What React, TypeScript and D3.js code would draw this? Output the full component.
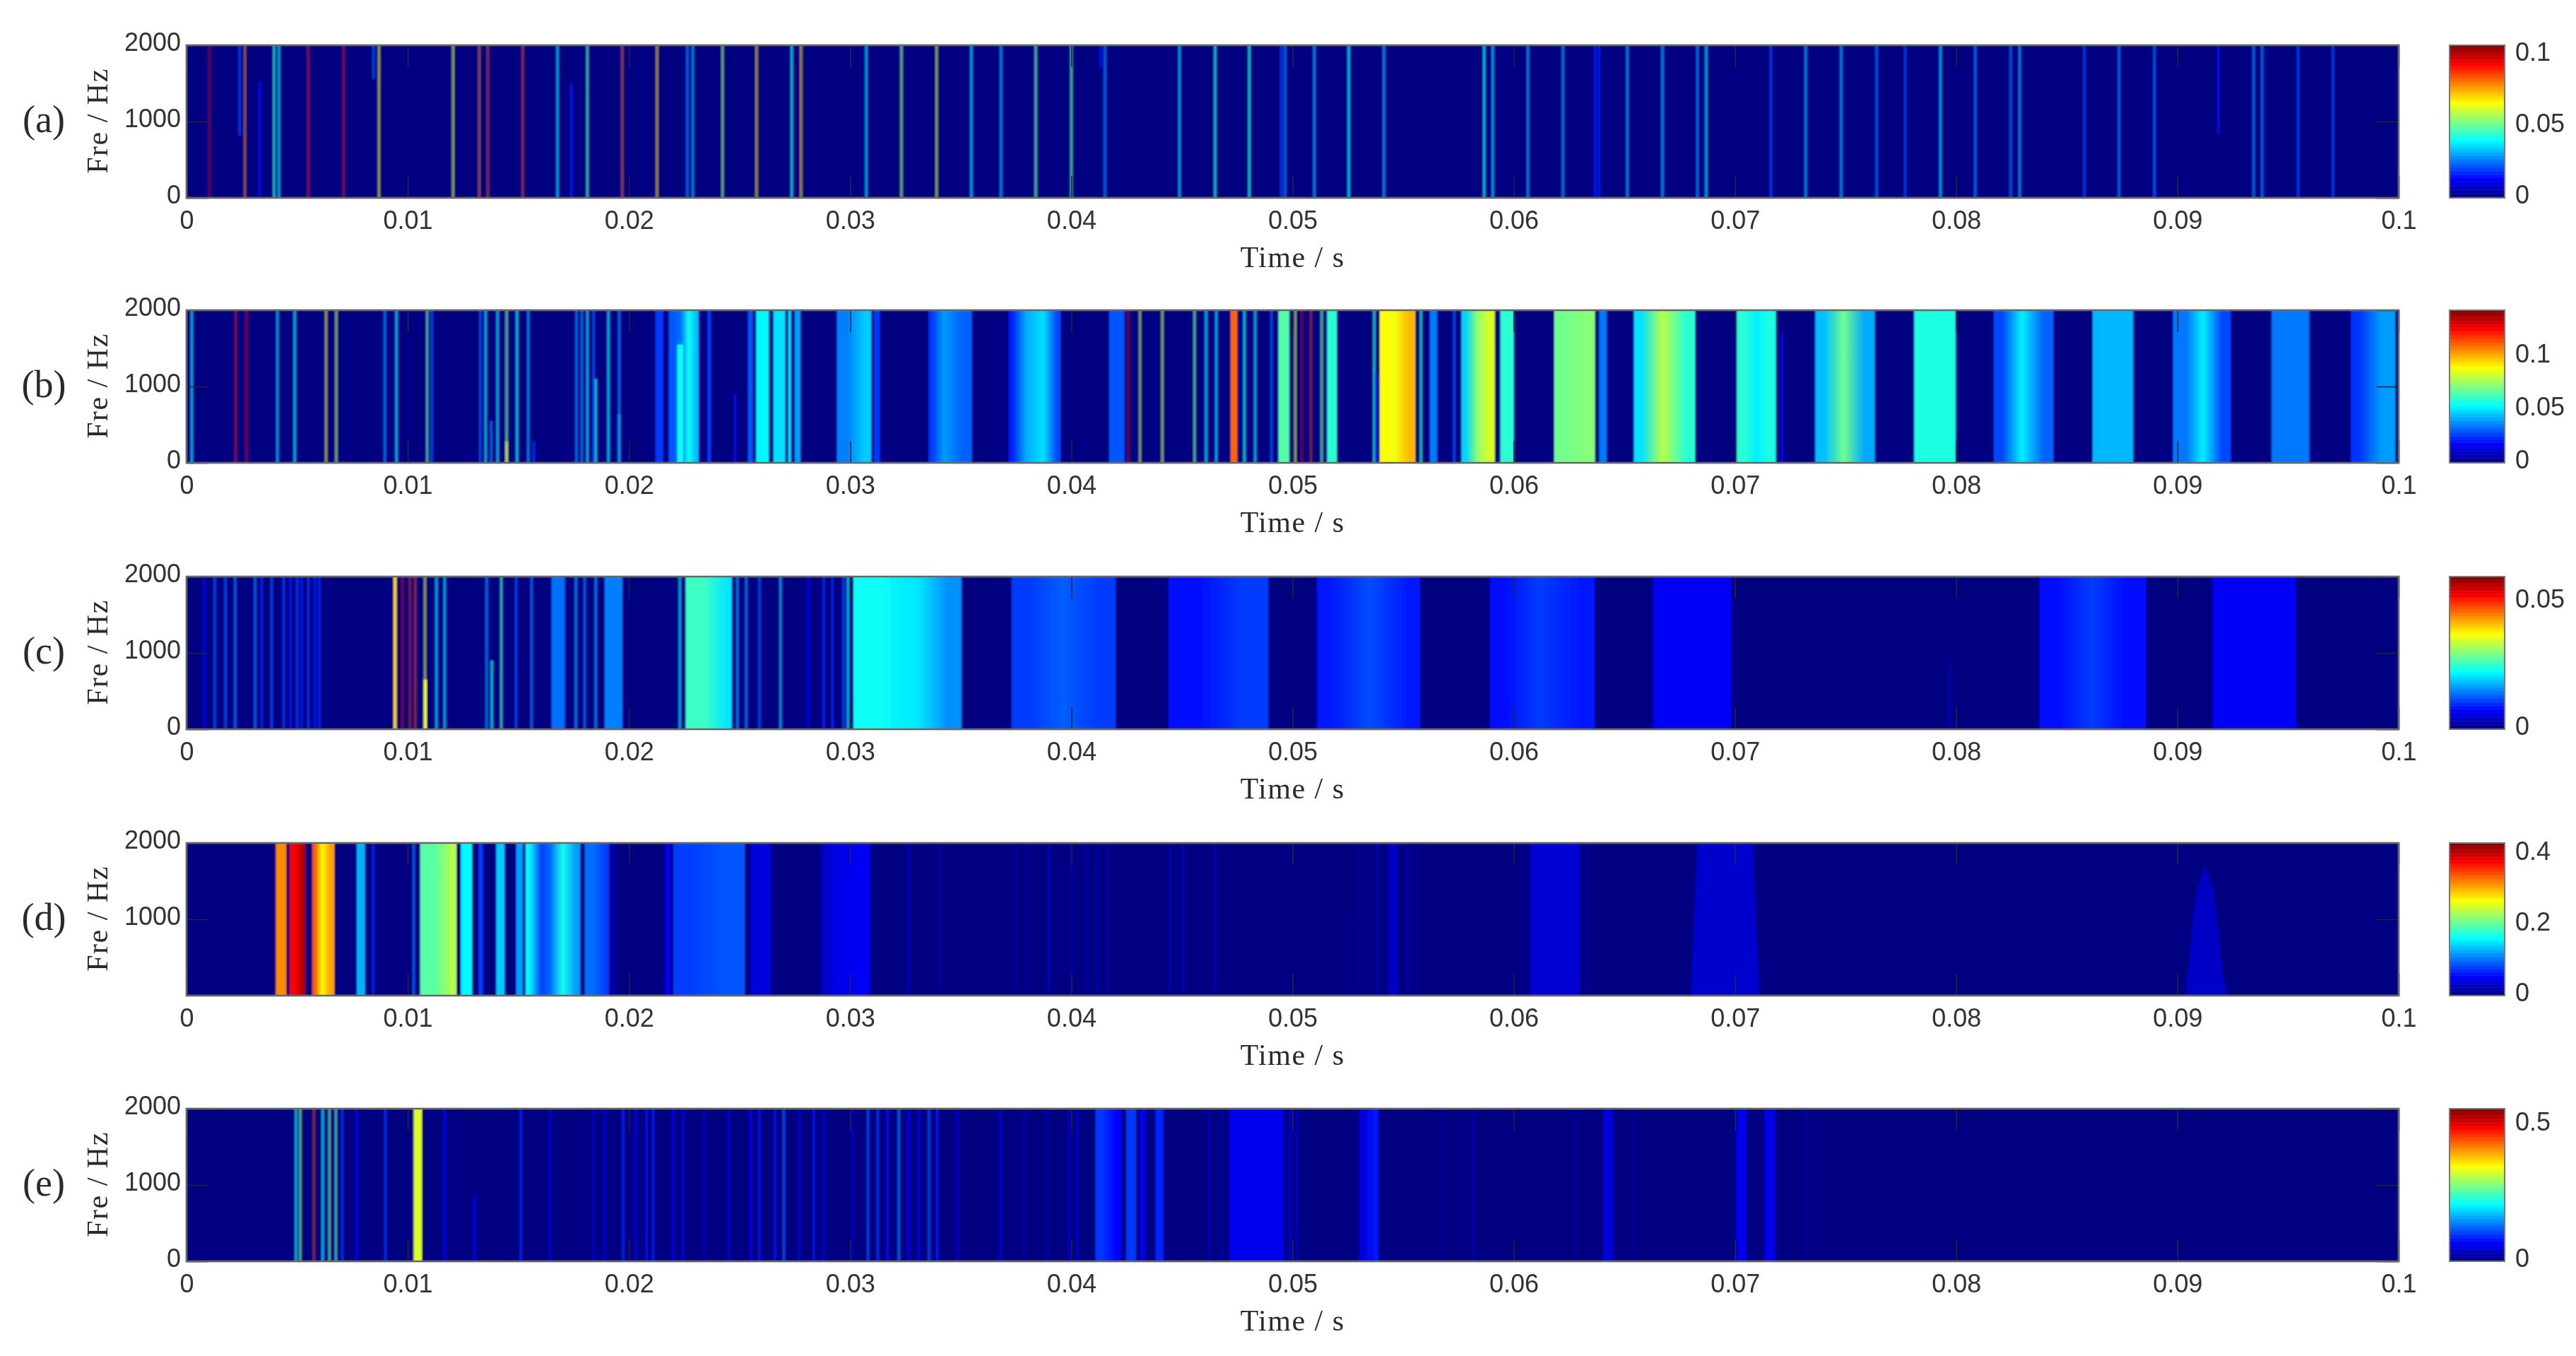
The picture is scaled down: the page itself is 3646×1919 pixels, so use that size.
import * as d3 from "d3";
import { useEffect, useRef } from "react";

// line = [time, level, optional freq low, optional freq high]
type Line = [number, number, number?, number?];
// band = [time start, time end, level, optional freq low, optional freq high]
type Band = [number, number, number, number?, number?];
// outline of a tapered patch = [time, freq]
type Patch = { level: number; outline: [number, number][] };

const X_TICKS = [0, 0.01, 0.02, 0.03, 0.04, 0.05, 0.06, 0.07, 0.08, 0.09, 0.1];
const Y_TICKS = [0, 1000, 2000];
const Y_TICKS_D = [1000, 2000];

const CB_MAX = [0.107, 0.144, 0.06, 0.432, 0.56];
const CB_TICKS = [
  [0, 0.05, 0.1],
  [0, 0.05, 0.1],
  [0, 0.05],
  [0, 0.2, 0.4],
  [0, 0.5],
];
const PANEL_LABELS = ["(a)", "(b)", "(c)", "(d)", "(e)"];

const LINES_A: Line[] = [
  [0.00103, 0.098], [0.0024, 0.02, 820, 2000], [0.00264, 0.078], [0.0033, 0.015, 0, 1526], [0.00396, 0.045],
  [0.00418, 0.036], [0.0055, 0.09], [0.0071, 0.092], [0.00846, 0.022, 1557, 2000], [0.0087, 0.066],
  [0.01205, 0.064], [0.01323, 0.08], [0.01362, 0.085], [0.0152, 0.085], [0.01677, 0.035],
  [0.0174, 0.016, 0, 1500], [0.01812, 0.048], [0.0197, 0.082], [0.02127, 0.07], [0.02264, 0.026],
  [0.02289, 0.03], [0.02423, 0.056], [0.02577, 0.07], [0.02736, 0.042], [0.02778, 0.07],
  [0.03073, 0.035], [0.03232, 0.055], [0.03391, 0.062], [0.03548, 0.035], [0.03682, 0.03],
  [0.03839, 0.05], [0.04, 0.05], [0.04132, 0.015, 1700, 2000], [0.04152, 0.026], [0.04489, 0.035],
  [0.0465, 0.043], [0.04804, 0.042], [0.04949, 0.02], [0.04966, 0.026], [0.05098, 0.03],
  [0.05254, 0.04], [0.05413, 0.03], [0.05866, 0.04], [0.05905, 0.034], [0.06064, 0.03],
  [0.06222, 0.028], [0.06367, 0.016], [0.06385, 0.016], [0.06513, 0.03], [0.06672, 0.03],
  [0.0683, 0.028], [0.0687, 0.035], [0.07162, 0.02], [0.0732, 0.03], [0.0748, 0.03],
  [0.0764, 0.024], [0.07769, 0.02], [0.07929, 0.035], [0.08086, 0.026], [0.08246, 0.024],
  [0.08287, 0.03], [0.08579, 0.02], [0.08736, 0.026], [0.08896, 0.024], [0.09185, 0.015, 830, 2000],
  [0.09345, 0.026], [0.09383, 0.026], [0.09546, 0.02], [0.09703, 0.02],
];

const BANDS_B: Band[] = [
  [0.0212, 0.02155, 0.026], [0.0218, 0.0221, 0.03], [0.02218, 0.0225, 0.034], [0.02218, 0.02245, 0.056, 0, 1550],
  [0.0226, 0.0228, 0.056], [0.0229, 0.02315, 0.045], [0.02355, 0.0237, 0.026], [0.02538, 0.0256, 0.03],
  [0.02575, 0.02633, 0.053], [0.02653, 0.02707, 0.05], [0.0272, 0.02733, 0.05], [0.0275, 0.02775, 0.04],
  [0.0294, 0.0303, 0.036], [0.03037, 0.03095, 0.047], [0.03108, 0.03134, 0.026], [0.03355, 0.03384, 0.026],
  [0.03391, 0.03457, 0.04], [0.03457, 0.0355, 0.032], [0.03716, 0.03746, 0.022], [0.03751, 0.03836, 0.042],
  [0.03836, 0.03909, 0.05], [0.03917, 0.03951, 0.028], [0.04171, 0.0424, 0.03], [0.0472, 0.0475, 0.112],
  [0.04936, 0.04985, 0.066], [0.05156, 0.052, 0.06], [0.05394, 0.05438, 0.09], [0.05438, 0.05487, 0.088],
  [0.05499, 0.05555, 0.1], [0.05621, 0.05653, 0.035], [0.05763, 0.058, 0.048], [0.05812, 0.05865, 0.075],
  [0.05865, 0.05914, 0.085], [0.05939, 0.06, 0.06], [0.06183, 0.06281, 0.07], [0.06281, 0.06367, 0.073],
  [0.06386, 0.0642, 0.035], [0.06543, 0.06611, 0.05], [0.06611, 0.06733, 0.08], [0.06733, 0.0682, 0.06],
  [0.07008, 0.07078, 0.06], [0.07078, 0.07116, 0.052], [0.07116, 0.07185, 0.058], [0.07363, 0.07447, 0.045],
  [0.07447, 0.07536, 0.07], [0.07536, 0.07632, 0.042], [0.0781, 0.07997, 0.058], [0.0817, 0.08246, 0.028],
  [0.08246, 0.08348, 0.052], [0.08348, 0.08439, 0.032], [0.08617, 0.088, 0.044], [0.0898, 0.0901, 0.035],
  [0.09013, 0.09071, 0.035], [0.09071, 0.0916, 0.052], [0.0916, 0.09241, 0.028], [0.09426, 0.09596, 0.035],
  [0.09784, 0.09858, 0.025], [0.09858, 0.09985, 0.04],
];
const LINES_B: Line[] = [
  [0.00024, 0.05], [0.00222, 0.122], [0.00271, 0.125], [0.00411, 0.045], [0.00489, 0.05],
  [0.00631, 0.09], [0.00677, 0.08], [0.00897, 0.036], [0.00949, 0.05], [0.01088, 0.07],
  [0.01108, 0.03], [0.01328, 0.03], [0.01352, 0.05], [0.01377, 0.035, 0, 550], [0.01406, 0.05],
  [0.01447, 0.07], [0.01447, 0.09, 0, 280], [0.01494, 0.055], [0.01545, 0.04], [0.0157, 0.025, 0, 280],
  [0.01763, 0.036], [0.01787, 0.036], [0.01812, 0.05], [0.0184, 0.03], [0.0185, 0.056, 0, 1100],
  [0.01907, 0.05], [0.01956, 0.036], [0.01956, 0.042, 0, 640], [0.0248, 0.02, 0, 900], [0.04257, 0.13],
  [0.0431, 0.08], [0.04411, 0.08], [0.04557, 0.07], [0.04609, 0.05], [0.04655, 0.05],
  [0.04782, 0.055], [0.04831, 0.05], [0.04905, 0.03], [0.05012, 0.085], [0.05042, 0.13],
  [0.05083, 0.12], [0.05132, 0.07], [0.05369, 0.06], [0.0558, 0.06], [0.05731, 0.03],
  [0.07213, 0.02, 0, 1700], [0.0538, 0.02, 0, 1180],
];

const BANDS_C: Band[] = [
  [0.00936, 0.0095, 0.04], [0.0189, 0.0197, 0.015], [0.02256, 0.0242, 0.026], [0.0243, 0.02465, 0.021], [0.03015, 0.03247, 0.023],
  [0.03247, 0.03375, 0.021], [0.03375, 0.03503, 0.016], [0.0373, 0.0389, 0.011], [0.0389, 0.04035, 0.013],
  [0.04035, 0.042, 0.011], [0.04439, 0.04659, 0.008], [0.04659, 0.0489, 0.011], [0.0511, 0.05245, 0.009],
  [0.05245, 0.05452, 0.012], [0.05452, 0.05576, 0.009], [0.05892, 0.05997, 0.008], [0.05997, 0.06223, 0.011],
  [0.06223, 0.06366, 0.009], [0.0663, 0.06983, 0.007], [0.08376, 0.08519, 0.008], [0.08519, 0.08707, 0.011],
  [0.08707, 0.08858, 0.008], [0.09159, 0.09535, 0.007], [0.0165, 0.0171, 0.014],
  [0.01072, 0.01086, 0.037, 0, 650],
];
const LINES_C: Line[] = [
  [0.0008, 0.008], [0.00128, 0.012], [0.00176, 0.012], [0.0022, 0.014], [0.0031, 0.014],
  [0.0034, 0.01], [0.00385, 0.012], [0.0044, 0.011], [0.0047, 0.009], [0.005, 0.011],
  [0.0052, 0.009], [0.0055, 0.011], [0.0058, 0.009], [0.006, 0.01],
  [0.00976, 0.052], [0.0101, 0.05], [0.01034, 0.048], [0.01078, 0.036],
  [0.0113, 0.02], [0.01167, 0.02], [0.01357, 0.015], [0.0138, 0.023, 0, 900],
  [0.01423, 0.027], [0.0149, 0.012], [0.0156, 0.014], [0.0176, 0.016], [0.018, 0.014],
  [0.0185, 0.016], [0.0223, 0.02], [0.0249, 0.016], [0.0253, 0.015], [0.0259, 0.012],
  [0.02685, 0.018], [0.0281, 0.008], [0.0288, 0.01], [0.0292, 0.01], [0.0297, 0.012],
  [0.0299, 0.022], [0.0797, 0.003, 0, 900],
];

const BANDS_D: Band[] = [
  [0.00404, 0.00451, 0.32], [0.00466, 0.00506, 0.38], [0.00506, 0.00536, 0.41], [0.00569, 0.00594, 0.34],
  [0.00594, 0.00631, 0.27], [0.00631, 0.00668, 0.31], [0.0077, 0.00807, 0.13], [0.01056, 0.01192, 0.2],
  [0.0119, 0.0122, 0.24], [0.0124, 0.01291, 0.16], [0.0132, 0.0134, 0.08], [0.014, 0.01438, 0.14],
  [0.0149, 0.0152, 0.12], [0.01533, 0.0157, 0.16], [0.0158, 0.0163, 0.08], [0.0163, 0.0166, 0.1],
  [0.0166, 0.01742, 0.17], [0.01742, 0.0178, 0.12], [0.018, 0.0188, 0.1], [0.0188, 0.0191, 0.08],
  [0.02164, 0.02186, 0.05], [0.022, 0.02348, 0.08], [0.02348, 0.02524, 0.09], [0.0255, 0.02641, 0.04],
  [0.02869, 0.02898, 0.03], [0.02905, 0.03, 0.045], [0.03, 0.03089, 0.05], [0.05433, 0.05475, 0.03],
  [0.06073, 0.06298, 0.035],
];
const LINES_D: Line[] = [
  [0.00844, 0.07], [0.01027, 0.1], [0.0193, 0.04], [0.03265, 0.03], [0.03404, 0.02],
  [0.0375, 0.015], [0.03797, 0.015], [0.03896, 0.03], [0.04, 0.02], [0.04065, 0.02],
  [0.04116, 0.02], [0.04164, 0.02], [0.04446, 0.025], [0.04505, 0.03], [0.04648, 0.03],
  [0.05245, 0.015, 0, 1000], [0.053, 0.015], [0.05384, 0.025], [0.0552, 0.025], [0.05565, 0.015],
  [0.0604, 0.015], [0.0633, 0.015],
];
const PATCHES_D: Patch[] = [
  { level: 0.033, outline: [[0.0680, 0], [0.0683, 2000], [0.0708, 2000], [0.0711, 0]] },
  {
    level: 0.03,
    outline: [
      [0.09036, 0], [0.09055, 500], [0.0907, 1000], [0.0909, 1400], [0.09125, 1720],
      [0.0916, 1400], [0.0918, 1000], [0.09194, 500], [0.09224, 0],
    ],
  },
];

const BANDS_E: Band[] = [
  [0.01027, 0.01064, 0.33], [0.04109, 0.04164, 0.1], [0.04175, 0.04226, 0.07], [0.04248, 0.04292, 0.1],
  [0.0431, 0.04336, 0.06], [0.0438, 0.04416, 0.09], [0.04714, 0.0496, 0.06], [0.05301, 0.05339, 0.05],
  [0.0535, 0.05388, 0.08], [0.06404, 0.06449, 0.05], [0.07006, 0.07051, 0.06], [0.07133, 0.07181, 0.06],
];
const LINES_E: Line[] = [
  [0.00495, 0.2], [0.00514, 0.28], [0.00576, 0.45], [0.00616, 0.2], [0.00646, 0.27],
  [0.00675, 0.25], [0.00704, 0.1], [0.0077, 0.07], [0.00899, 0.1], [0.01167, 0.07],
  [0.01302, 0.07, 0, 880], [0.01511, 0.09], [0.01643, 0.05], [0.01842, 0.04], [0.0189, 0.05],
  [0.01974, 0.09], [0.0203, 0.06], [0.0208, 0.08], [0.0211, 0.09], [0.022, 0.07],
  [0.02245, 0.06], [0.0234, 0.04], [0.0245, 0.05], [0.0255, 0.07], [0.0259, 0.08],
  [0.0266, 0.08], [0.027, 0.12], [0.0277, 0.05], [0.02836, 0.08], [0.0288, 0.05],
  [0.0301, 0.04], [0.0308, 0.11], [0.03125, 0.1], [0.0317, 0.08], [0.0322, 0.13],
  [0.03265, 0.07], [0.0331, 0.06], [0.03357, 0.11], [0.03393, 0.09], [0.03485, 0.05],
  [0.03679, 0.05], [0.03786, 0.03], [0.03888, 0.03], [0.0399, 0.04], [0.04027, 0.05],
  [0.04622, 0.03], [0.04677, 0.03], [0.04989, 0.05], [0.05019, 0.04], [0.05677, 0.02],
  [0.05817, 0.03], [0.0628, 0.02], [0.06536, 0.02], [0.0732, 0.02],
];

const ALL_LINES = [LINES_A, LINES_B, LINES_C, LINES_D, LINES_E];
const ALL_BANDS: Band[][] = [[], BANDS_B, BANDS_C, BANDS_D, BANDS_E];
const ALL_PATCHES: Patch[][] = [[], [], [], PATCHES_D, []];

const jet = d3
  .scaleLinear<string>()
  .domain([0, 0.125, 0.375, 0.625, 0.875, 1])
  .range(["#000080", "#0000ff", "#00ffff", "#ffff00", "#ff0000", "#800000"])
  .clamp(true);

const WIDTH = 3646;
const HEIGHT = 1919;
const LEFT = 264;
const RIGHT = 3395;
const PANEL_H = 216;
const PANEL_TOPS = [64, 439, 816, 1193, 1569];
const CB_LEFT = 3467;
const CB_RIGHT = 3545;
const TICK_LEN = 31;
const LINE_SPAN = 0.00012;
const MERGE_GAP = 0.00012;
const FONT = "'Liberation Serif', serif";

// neighbouring full-height stripes are joined so they fade into each other
function mergeBands(bands: Band[]) {
  const full = bands.filter((b) => b[3] === undefined).sort((a, b) => a[0] - b[0]);
  const groups: Band[][] = [];
  full.forEach((b) => {
    const last = groups[groups.length - 1];
    if (last && b[0] - last[last.length - 1][1] < MERGE_GAP) last.push(b);
    else groups.push([b]);
  });
  return groups;
}

export default function App() {
  const ref = useRef<SVGSVGElement | null>(null);

  useEffect(() => {
    const svg = d3.select(ref.current);
    svg.selectAll("*").remove();

    const defs = svg.append("defs");
    const blur = (id: string, amount: number) =>
      defs
        .append("filter")
        .attr("id", id)
        .attr("filterUnits", "userSpaceOnUse")
        .attr("x", 0)
        .attr("y", 0)
        .attr("width", WIDTH)
        .attr("height", HEIGHT)
        .append("feGaussianBlur")
        .attr("stdDeviation", amount);
    blur("soft", 1.3);
    blur("softText", 0.7);

    const x = d3.scaleLinear().domain([0, 0.1]).range([LEFT, RIGHT]);

    PANEL_TOPS.forEach((top, i) => {
      const bottom = top + PANEL_H;
      const max = CB_MAX[i];
      const y = d3.scaleLinear().domain([0, 2000]).range([bottom, top]);
      const g = svg.append("g").attr("filter", "url(#soft)");

      g.append("rect")
        .attr("x", LEFT)
        .attr("y", top)
        .attr("width", RIGHT - LEFT)
        .attr("height", PANEL_H)
        .attr("fill", jet(0));

      mergeBands(ALL_BANDS[i]).forEach((group, k) => {
        const start = group[0][0];
        const end = group[group.length - 1][1];
        let fill = jet(group[0][2] / max);
        if (group.length > 1) {
          const id = `band-${i}-${k}`;
          const grad = defs
            .append("linearGradient")
            .attr("id", id)
            .attr("gradientUnits", "userSpaceOnUse")
            .attr("x1", x(start))
            .attr("x2", x(end))
            .attr("y1", 0)
            .attr("y2", 0);
          const stop = (t: number, v: number) =>
            grad
              .append("stop")
              .attr("offset", (t - start) / (end - start))
              .attr("stop-color", jet(v / max));
          stop(start, group[0][2]);
          group.forEach(([t0, t1, v]) => stop((t0 + t1) / 2, v));
          stop(end, group[group.length - 1][2]);
          fill = `url(#${id})`;
        }
        g.append("rect")
          .attr("x", x(start))
          .attr("y", top)
          .attr("width", x(end) - x(start))
          .attr("height", PANEL_H)
          .attr("fill", fill);
      });
      ALL_BANDS[i]
        .filter((b) => b[3] !== undefined)
        .forEach(([t0, t1, v, f0 = 0, f1 = 2000]) => {
          g.append("rect")
            .attr("x", x(t0))
            .attr("y", y(f1))
            .attr("width", x(t1) - x(t0))
            .attr("height", y(f0) - y(f1))
            .attr("fill", jet(v / max));
        });
      ALL_PATCHES[i].forEach((p) => {
        const path = d3
          .line<[number, number]>()
          .x((d) => x(d[0]))
          .y((d) => y(d[1]));
        g.append("path")
          .attr("d", (path(p.outline) ?? "") + "Z")
          .attr("fill", jet(p.level / max));
      });
      ALL_LINES[i].forEach(([t, v, f0 = 0, f1 = 2000]) => {
        g.append("rect")
          .attr("x", x(t - LINE_SPAN / 2))
          .attr("y", y(f1))
          .attr("width", x(LINE_SPAN) - x(0))
          .attr("height", y(f0) - y(f1))
          .attr("fill", jet(v / max))
          .attr("fill-opacity", 0.85 - 0.45 * (v / max));
      });

      // inner ticks on all four sides, labels only bottom and left
      const ticks = svg.append("g").attr("filter", "url(#softText)").attr("font-family", FONT);
      const yTicks = i === 3 ? Y_TICKS_D : Y_TICKS;
      const bottomAxis = ticks
        .append("g")
        .attr("transform", `translate(0,${bottom})`)
        .call(
          d3
            .axisBottom(x)
            .tickValues(X_TICKS)
            .tickSize(-TICK_LEN)
            .tickPadding(18)
            .tickFormat((d) => d3.format("~g")(d as number))
        );
      const topAxis = ticks
        .append("g")
        .attr("transform", `translate(0,${top})`)
        .call(d3.axisTop(x).tickValues(X_TICKS).tickSize(-TICK_LEN).tickFormat(() => ""));
      const leftAxis = ticks
        .append("g")
        .attr("transform", `translate(${LEFT},0)`)
        .call(d3.axisLeft(y).tickValues(yTicks).tickSize(-TICK_LEN).tickPadding(8).tickFormat(d3.format("d")));
      const rightAxis = ticks
        .append("g")
        .attr("transform", `translate(${RIGHT},0)`)
        .call(d3.axisRight(y).tickValues(yTicks).tickSize(-TICK_LEN).tickFormat(() => ""));
      [bottomAxis, topAxis, leftAxis, rightAxis].forEach((a) => {
        a.select(".domain").remove();
        a.selectAll("line").attr("stroke", "#262640").attr("stroke-width", 1.6);
        a.selectAll("text").attr("font-size", 36).attr("fill", "#333");
      });
      leftAxis.selectAll("text").attr("dy", "0.2em");

      ticks
        .append("rect")
        .attr("x", LEFT)
        .attr("y", top)
        .attr("width", RIGHT - LEFT)
        .attr("height", PANEL_H)
        .attr("fill", "none")
        .attr("stroke", "#666")
        .attr("stroke-width", 2.5);

      const text = svg
        .append("g")
        .attr("filter", "url(#softText)")
        .attr("font-family", FONT)
        .attr("fill", "#2a2a2a");
      text
        .append("text")
        .attr("x", (LEFT + RIGHT) / 2)
        .attr("y", bottom + 98)
        .attr("text-anchor", "middle")
        .attr("font-size", 42)
        .attr("letter-spacing", 1.5)
        .text("Time / s");
      text
        .append("text")
        .attr("transform", `translate(152,${top + 107}) rotate(-90)`)
        .attr("text-anchor", "middle")
        .attr("font-size", 42)
        .attr("letter-spacing", 1.5)
        .text("Fre / Hz");
      text
        .append("text")
        .attr("x", 62)
        .attr("y", top + 123)
        .attr("text-anchor", "middle")
        .attr("font-size", 54)
        .text(PANEL_LABELS[i]);

      // colorbar
      const cb = d3.scaleLinear().domain([0, max]).range([bottom, top]);
      const levels = d3.range(0, 1, 1 / 128);
      const bar = svg.append("g").attr("filter", "url(#softText)");
      bar
        .selectAll("rect")
        .data(levels)
        .join("rect")
        .attr("x", CB_LEFT)
        .attr("y", (d) => cb((d + 1 / 128) * max))
        .attr("width", CB_RIGHT - CB_LEFT)
        .attr("height", PANEL_H / 128 + 0.5)
        .attr("fill", (d) => jet(d + 1 / 256));
      bar
        .append("rect")
        .attr("x", CB_LEFT)
        .attr("y", top)
        .attr("width", CB_RIGHT - CB_LEFT)
        .attr("height", PANEL_H)
        .attr("fill", "none")
        .attr("stroke", "#777")
        .attr("stroke-width", 2);
      const cbAxis = bar
        .append("g")
        .attr("transform", `translate(${CB_RIGHT},0)`)
        .attr("font-family", FONT)
        .call(
          d3
            .axisRight(cb)
            .tickValues(CB_TICKS[i])
            .tickSize(0)
            .tickPadding(15)
            .tickFormat((d) => d3.format("~g")(d as number))
        );
      cbAxis.select(".domain").remove();
      cbAxis.selectAll("text").attr("font-size", 36).attr("fill", "#333").attr("dy", "0.2em");
    });
  }, []);

  return (
    <svg
      ref={ref}
      width={WIDTH}
      height={HEIGHT}
      viewBox={`0 0 ${WIDTH} ${HEIGHT}`}
      style={{ position: "absolute", left: 0, top: 0, background: "#fff" }}
    />
  );
}
